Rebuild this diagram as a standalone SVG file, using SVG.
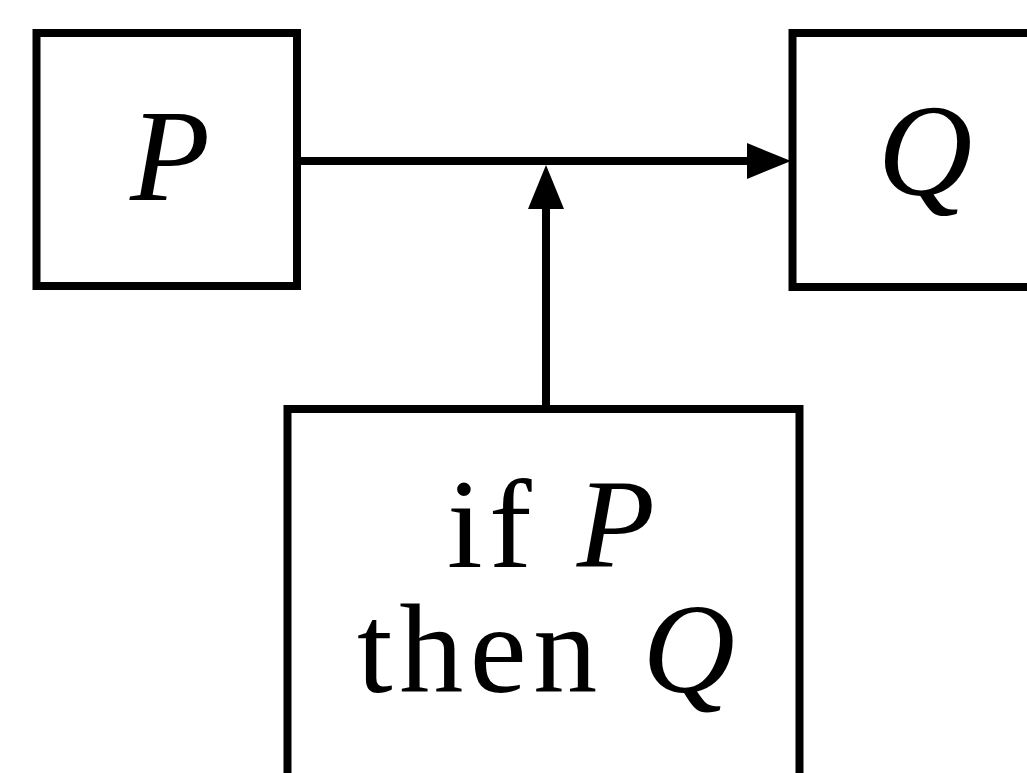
<svg xmlns="http://www.w3.org/2000/svg" width="1027" height="773" viewBox="0 0 1027 773">
  <style>
    .box { fill: #ffffff; stroke: #000000; stroke-width: 8; }
    .edge { fill: none; stroke: #000000; stroke-width: 8; }
    .lbl { font-family: "Liberation Serif", "Times New Roman", serif; font-size: 128px; fill: #000000; text-anchor: middle; }
    .it { font-style: italic; }
  </style>
  <defs>
    <marker id="arrow" markerUnits="userSpaceOnUse" markerWidth="44" markerHeight="36" refX="0" refY="18" orient="auto">
      <path d="M0,0 L44,18 L0,36 z" fill="#000000"/>
    </marker>
  </defs>
  <rect width="1027" height="773" fill="#ffffff"/>
  <g id="edges">
    <line class="edge" x1="297" y1="161" x2="747" y2="161" marker-end="url(#arrow)"/>
    <line class="edge" x1="546" y1="409" x2="546" y2="209" marker-end="url(#arrow)"/>
  </g>
  <g id="node-P">
    <rect class="box" x="36.5" y="33" width="260.5" height="253"/>
    <text class="lbl it" x="170" y="200" style="font-size:131px">P</text>
  </g>
  <g id="node-Q">
    <rect class="box" x="792.5" y="33" width="300" height="254"/>
    <text class="lbl it" x="925" y="195" style="font-size:131px">Q</text>
  </g>
  <g id="node-rule">
    <rect class="box" x="287.5" y="409" width="512" height="420"/>
    <text class="lbl" x="551" y="567" textLength="208" lengthAdjust="spacing">if <tspan class="it">P</tspan></text>
    <text class="lbl" x="546" y="692" textLength="378" lengthAdjust="spacing">then <tspan class="it">Q</tspan></text>
  </g>
</svg>
